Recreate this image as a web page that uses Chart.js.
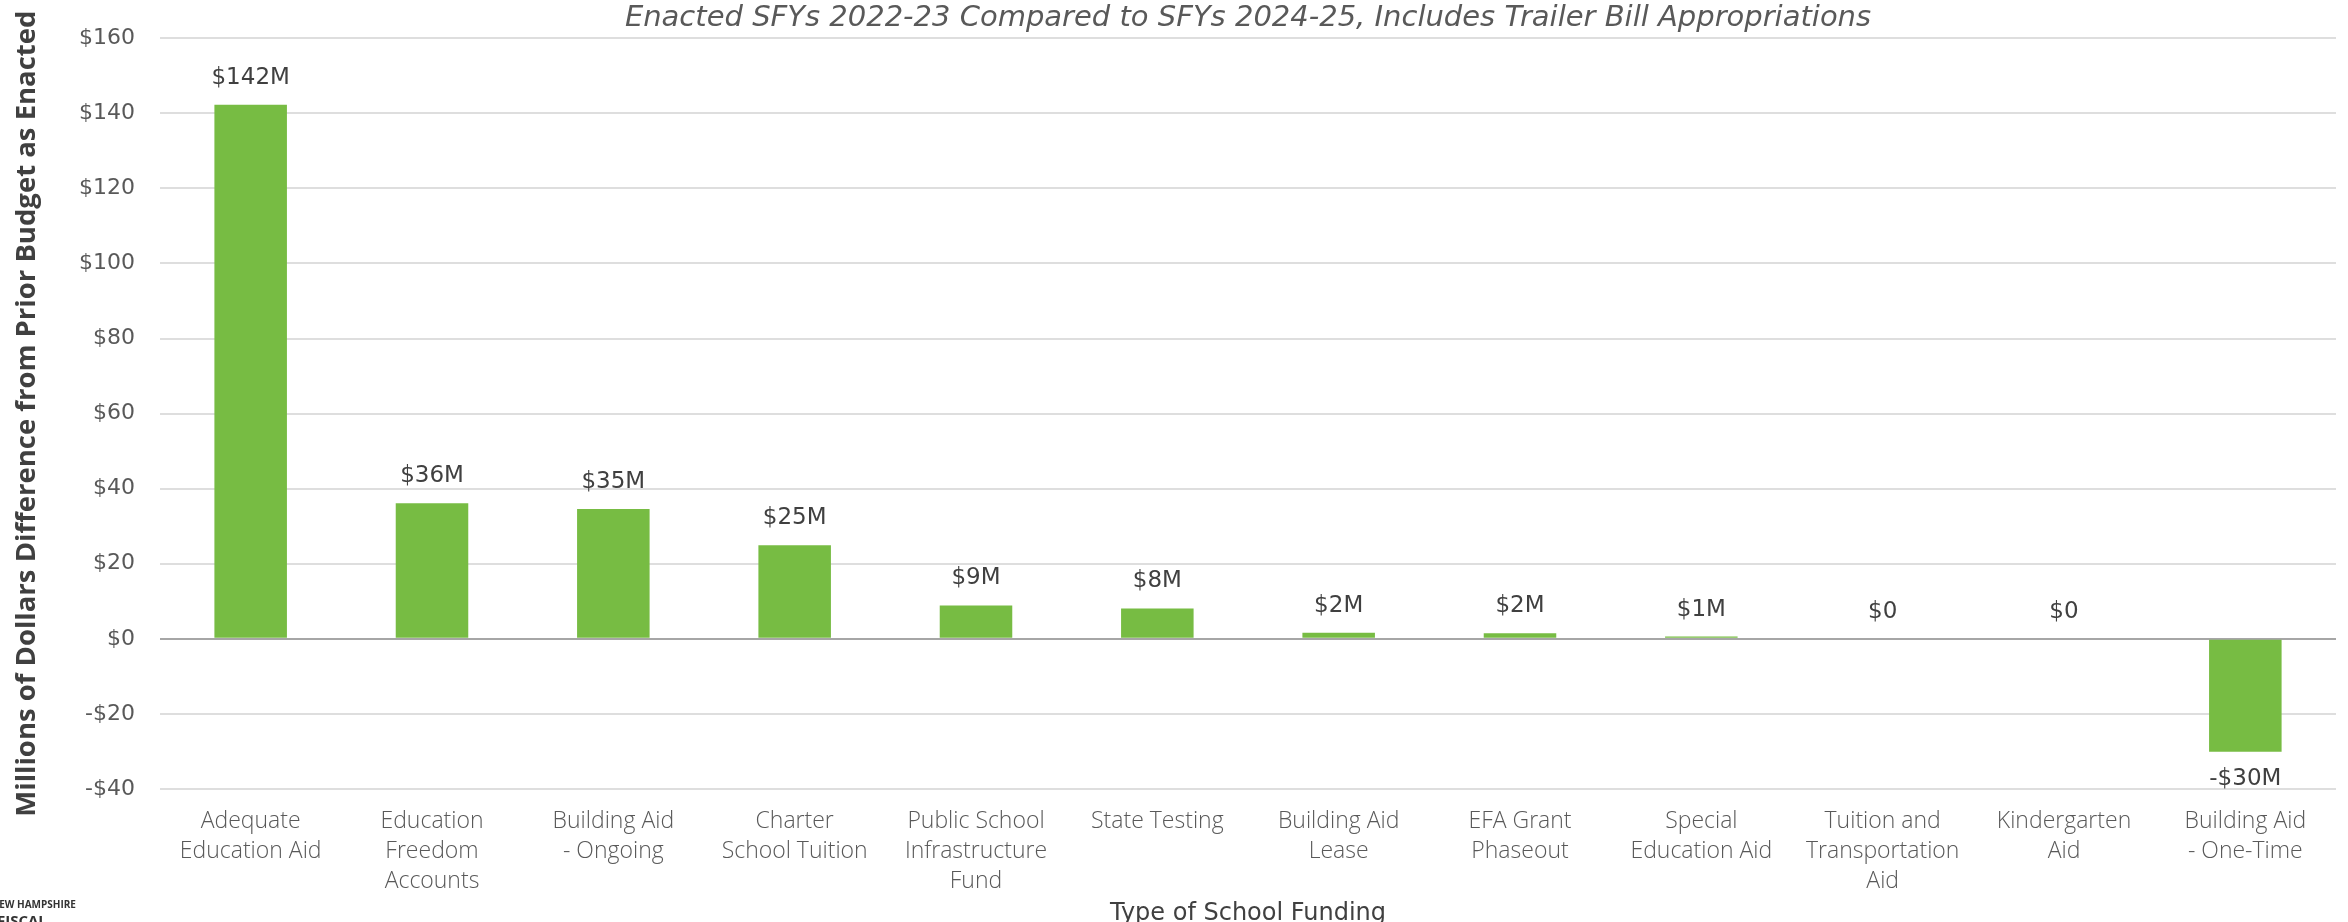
<!DOCTYPE html>
<html>
<head>
<meta charset="utf-8">
<script src="https://cdn.jsdelivr.net/npm/chart.js@4.4.1/dist/chart.umd.min.js"></script>
<style>
  html, body { margin: 0; padding: 0; background: #fff; overflow: hidden; }
  #wrap { width: 2348px; height: 929px; position: relative; }
</style>
</head>
<body>
<div id="wrap"><canvas id="fundingChart"></canvas></div>
<script>
const categories = [
  ['Adequate', 'Education Aid'],
  ['Education', 'Freedom', 'Accounts'],
  ['Building Aid', '- Ongoing'],
  ['Charter', 'School Tuition'],
  ['Public School', 'Infrastructure', 'Fund'],
  ['State Testing'],
  ['Building Aid', 'Lease'],
  ['EFA Grant', 'Phaseout'],
  ['Special', 'Education Aid'],
  ['Tuition and', 'Transportation', 'Aid'],
  ['Kindergarten', 'Aid'],
  ['Building Aid', '- One-Time']
];
// millions of dollars
const differences = [142.3, 36.1, 34.6, 24.9, 8.9, 8.1, 1.6, 1.5, 0.6, 0, 0, -30.1];

const yMin = -40;
const yMax = 160;
const yStep = 20;

const titleText = 'Enacted SFYs 2022-23 Compared to SFYs 2024-25, Includes Trailer Bill Appropriations';
const yTitle = 'Millions of Dollars Difference from Prior Budget as Enacted';
const xTitle = 'Type of School Funding';

const WIDE = '"DejaVu Sans", Verdana, sans-serif';
const LIGHT = '"Open Sans", Lato, sans-serif';

const fmtTick = v => (v < 0 ? '-$' + Math.abs(v) : '$' + v);
const fmtValue = v => {
  const r = Math.round(Math.abs(v));
  if (r === 0) return '$0';
  return (v < 0 ? '-$' : '$') + r + 'M';
};

// value labels above / below each bar
const barLabels = {
  id: 'barLabels',
  afterDatasetsDraw(chart) {
    const ctx = chart.ctx;
    const meta = chart.getDatasetMeta(0);
    ctx.save();
    ctx.font = '23px ' + WIDE;
    ctx.fillStyle = '#404040';
    ctx.textAlign = 'center';
    ctx.textBaseline = 'middle';
    meta.data.forEach((bar, i) => {
      const v = differences[i];
      const y = v < 0 ? bar.y + 27 : bar.y - 27;
      ctx.fillText(fmtValue(v), bar.x, y);
    });
    ctx.restore();
  }
};

// title centred over the plot area rather than the whole canvas
const plotTitle = {
  id: 'plotTitle',
  afterDraw(chart) {
    const ctx = chart.ctx;
    const area = chart.chartArea;
    ctx.save();
    ctx.font = 'italic 29px ' + WIDE;
    ctx.fillStyle = '#595959';
    ctx.textAlign = 'center';
    ctx.textBaseline = 'middle';
    ctx.fillText(titleText, (area.left + area.right) / 2, 18);
    ctx.restore();
  }
};

// cut-off logo text in the bottom-left corner
const logo = {
  id: 'logo',
  afterDraw(chart) {
    const ctx = chart.ctx;
    ctx.save();
    ctx.fillStyle = '#333';
    ctx.textAlign = 'left';
    ctx.textBaseline = 'middle';
    ctx.font = 'bold 10px ' + LIGHT;
    ctx.fillText('NEW HAMPSHIRE', -9, 905);
    ctx.font = 'bold 15px ' + LIGHT;
    ctx.fillText('FISCAL', -3, 922);
    ctx.restore();
  }
};

new Chart(document.getElementById('fundingChart'), {
  type: 'bar',
  data: {
    labels: categories,
    datasets: [{
      data: differences,
      backgroundColor: '#77bc43',
      borderWidth: 0,
      barPercentage: 0.4,
      categoryPercentage: 1
    }]
  },
  options: {
    responsive: true,
    maintainAspectRatio: false,
    animation: false,
    layout: { padding: { left: 8, right: 12, top: 38, bottom: 0 } },
    plugins: {
      legend: { display: false },
      tooltip: { enabled: false },
      title: { display: false }
    },
    scales: {
      x: {
        afterFit: scale => { scale.height = 140; },
        grid: { display: false, drawTicks: false },
        border: { display: false },
        ticks: {
          color: '#595959',
          font: { family: LIGHT, size: 23, weight: '300', lineHeight: 30 / 23 },
          padding: 17,
          maxRotation: 0,
          autoSkip: false
        },
        title: {
          display: true,
          text: xTitle,
          color: '#404040',
          font: { family: WIDE, size: 24 },
          padding: { top: 0, bottom: 1 }
        }
      },
      y: {
        min: yMin,
        max: yMax,
        afterFit: scale => { scale.width = 152; },
        grid: {
          drawTicks: false,
          lineWidth: 2,
          color: c => (c.tick && c.tick.value === 0 ? '#a6a6a6' : '#dedede')
        },
        border: { display: false },
        ticks: {
          stepSize: yStep,
          color: '#595959',
          font: { family: WIDE, size: 22 },
          padding: 25,
          callback: v => fmtTick(v)
        },
        title: {
          display: true,
          text: yTitle,
          color: '#404040',
          font: { family: '"Liberation Sans Narrow", "Open Sans", sans-serif', size: 27.5, weight: 'bold' },
          padding: { top: 3, bottom: 10 }
        }
      }
    }
  },
  plugins: [barLabels, plotTitle, logo]
});
</script>
</body>
</html>
